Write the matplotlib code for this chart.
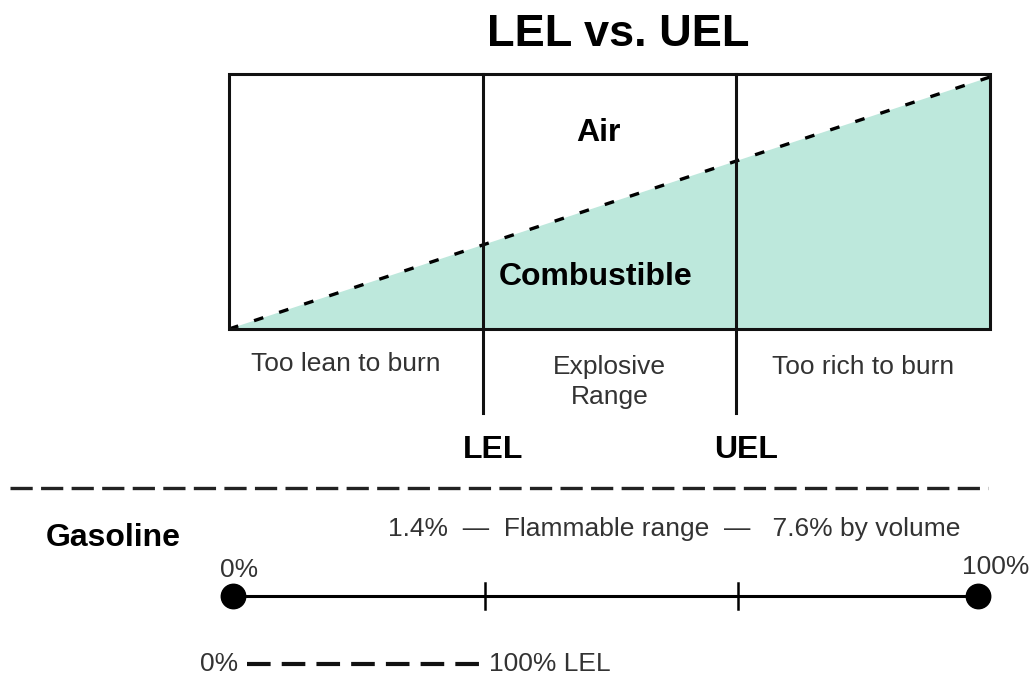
import matplotlib.pyplot as plt
from matplotlib.patches import Polygon, Rectangle

plt.rcParams['font.family'] = ['Liberation Sans', 'DejaVu Sans']
plt.rcParams['lines.scale_dashes'] = False

# diagram content
title = "LEL vs. UEL"
zone_names = ["Too lean to burn", "Explosive\nRange", "Too rich to burn"]
limit_names = ["LEL", "UEL"]
zone_edges = [0, 1, 2, 3]          # schematic: three equal zones
combustible_share = [0.0, 1.0]     # combustible fraction at left / right end
gas_name = "Gasoline"
gas_lel = 1.4
gas_uel = 7.6
scale_ends = ["0%", "100%"]

fill_col = '#bde8dc'
txt_col = '#333333'
reg = 19     # regular text size
bold = 23    # bold label size

# everything is placed in pixel space of a 1032x681 canvas
fig = plt.figure(figsize=(10.32, 6.81), dpi=100)
ax = fig.add_axes([0, 0, 1, 1])
ax.set_xlim(0, 1032)
ax.set_ylim(681, 0)
ax.axis('off')

box_l, box_r, box_t, box_b = 229, 990, 74, 329
zone_w = (box_r - box_l) / (zone_edges[-1] - zone_edges[0])


def bx(u):
    return box_l + (u - zone_edges[0]) * zone_w


def by(f):
    return box_b - f * (box_b - box_t - 3)


# combustible wedge and dashed mixing line
xs = [bx(zone_edges[0]), bx(zone_edges[-1])]
ys = [by(combustible_share[0]), by(combustible_share[1])]
ax.add_patch(Polygon([(xs[0], box_b), (xs[1], ys[1]), (xs[1], box_b)],
                     closed=True, facecolor=fill_col, edgecolor='none', zorder=1))
ax.plot(xs, ys, color='black', lw=2.4, dashes=(7, 12), zorder=3)

# box outline
ax.add_patch(Rectangle((box_l, box_t), box_r - box_l, box_b - box_t,
                       fill=False, edgecolor='#111111', lw=2.2, zorder=4))

# LEL / UEL dividers
for u, name in zip(zone_edges[1:3], limit_names):
    ax.plot([bx(u), bx(u)], [box_t, 413], color='#111111', lw=2.2, zorder=4)
    ax.text(bx(u) + 10, 450, name, ha='center', va='center',
            fontsize=bold, fontweight='bold')

ax.text(618, 35, title, ha='center', va='center', fontsize=32.5, fontweight='bold')
ax.text(598, 133, "Air", ha='center', va='center', fontsize=bold, fontweight='bold')
ax.text(596, 277, "Combustible", ha='center', va='center', fontsize=bold, fontweight='bold')

zone_y = [364, 382, 367]
for i, name in enumerate(zone_names):
    cx = (bx(zone_edges[i]) + bx(zone_edges[i + 1])) / 2
    ax.text(cx + (-10 if i == 0 else 0), zone_y[i], name, ha='center', va='center',
            fontsize=reg, color=txt_col, linespacing=1.3)

# separator
ax.plot([10, 988], [488, 488], color='#222222', lw=2.4, dashes=(16, 6))

# gasoline scale
ax.text(113, 538, gas_name, ha='center', va='center', fontsize=bold, fontweight='bold')
ax.text(388, 529, f"{gas_lel}%  —  Flammable range  —   {gas_uel}% by volume",
        ha='left', va='center', fontsize=reg, color=txt_col)

sc_l, sc_r, sc_y = 233, 978, 596
ax.plot([sc_l, sc_r], [sc_y, sc_y], color='black', lw=2.2, zorder=2)
ax.scatter([sc_l, sc_r], [sc_y, sc_y], s=310, color='black', zorder=3)
for u in zone_edges[1:3]:
    ax.plot([bx(u) + 2, bx(u) + 2], [583, 609], color='black', lw=1.8)
ax.text(239, 570, scale_ends[0], ha='center', va='center', fontsize=reg, color=txt_col)
ax.text(996, 567, scale_ends[1], ha='center', va='center', fontsize=reg, color=txt_col)

# 0% - 100% LEL
ax.text(238, 664, scale_ends[0], ha='right', va='center', fontsize=reg, color=txt_col)
ax.plot([247, 485], [664, 664], color='#111111', lw=3.0, dashes=(17, 8))
ax.text(489, 664, f"{scale_ends[1]} {limit_names[0]}", ha='left', va='center',
        fontsize=reg, color=txt_col)

fig.savefig('out.png', dpi=100, facecolor='white')
